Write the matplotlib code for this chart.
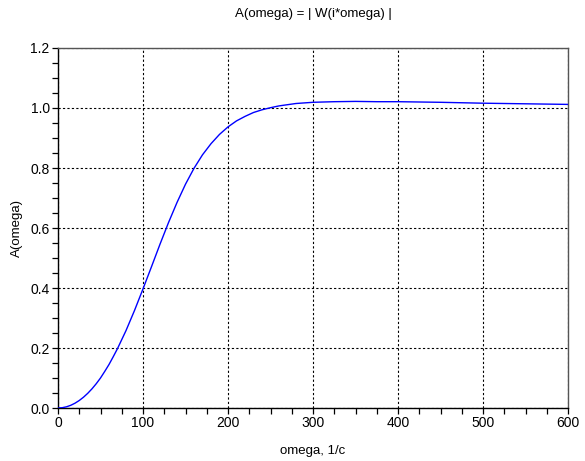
import matplotlib
matplotlib.use("Agg")
import matplotlib.pyplot as plt
from matplotlib.ticker import MultipleLocator

plt.rcParams['font.family'] = ['Liberation Sans', 'DejaVu Sans']

omega = [0, 5, 10, 15, 20, 25, 30, 35, 40, 45, 50, 55, 60, 65, 70, 80, 90, 100,
         110, 120, 130, 140, 150, 160, 170, 180, 190, 200, 210, 220, 230, 240,
         250, 260, 270, 280, 290, 300, 325, 350, 375, 400, 450, 500, 550, 600]
amplitude = [0.0, 0.001, 0.004, 0.009, 0.016, 0.025, 0.036, 0.049, 0.064, 0.081,
             0.100, 0.122, 0.145, 0.171, 0.198, 0.258, 0.325, 0.397, 0.471, 0.546,
             0.618, 0.685, 0.746, 0.799, 0.844, 0.881, 0.912, 0.937, 0.957, 0.972,
             0.985, 0.994, 1.001, 1.007, 1.011, 1.015, 1.017, 1.019, 1.021, 1.022,
             1.021, 1.021, 1.019, 1.016, 1.014, 1.012]

title = "A(omega) = | W(i*omega) |"
xlabel = "omega, 1/c"
ylabel = "A(omega)"

fig = plt.figure(figsize=(5.85, 4.61), dpi=100)
ax = fig.add_axes([58/585, 53/461, 510/585, 360/461])

ax.plot(omega, amplitude, color=(0, 0, 1), lw=1.0, zorder=3)

ax.set_xlim(0, 600)
ax.set_ylim(0, 1.2)
ax.xaxis.set_major_locator(MultipleLocator(100))
ax.xaxis.set_minor_locator(MultipleLocator(25))
ax.yaxis.set_major_locator(MultipleLocator(0.2))
ax.yaxis.set_minor_locator(MultipleLocator(0.05))
ax.yaxis.set_major_formatter(matplotlib.ticker.FormatStrFormatter('%.1f'))

ax.grid(True, which='major', color='black', linestyle=(0, (2, 2)), lw=0.8)
ax.tick_params(which='both', direction='out', length=4, width=0.9, colors='black',
               labelsize=10, pad=2)
for s in ['left', 'bottom']:
    ax.spines[s].set_linewidth(1.0)
    ax.spines[s].set_color('black')
for s in ['top', 'right']:
    ax.spines[s].set_linewidth(1.0)
    ax.spines[s].set_color('#555555')

fig.text(313/585, 1 - 14/461, title, ha='center', va='center', fontsize=9.5)
fig.text(313/585, 1 - 451/461, xlabel, ha='center', va='center', fontsize=9.5)
fig.text(17/585, 1 - 228/461, ylabel, ha='center', va='center', rotation=90, fontsize=9.5)

fig.savefig("out.png", dpi=100, facecolor='white')
